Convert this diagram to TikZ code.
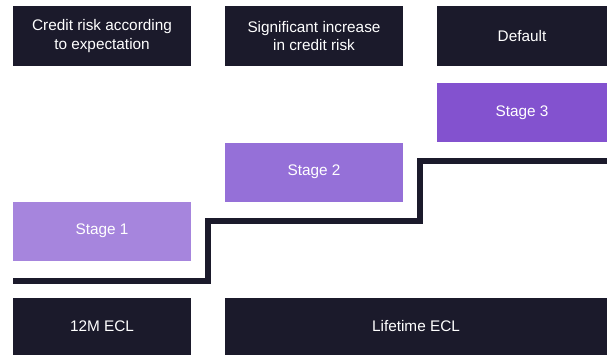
\documentclass[tikz,border=0pt]{standalone}
\usepackage{fontspec}
\setmainfont{Liberation Sans}
\definecolor{navy}{HTML}{1B1A2B}
\definecolor{stA}{HTML}{A685DD}
\definecolor{stB}{HTML}{9570D8}
\definecolor{stC}{HTML}{8352CF}
\begin{document}
\begin{tikzpicture}[x=0.75pt,y=-0.75pt,
  box/.style={rectangle,inner sep=0pt,outer sep=0pt,text=white,align=center,
    font=\fontsize{11.5}{14.2}\selectfont,minimum width=178*0.75pt,minimum height=60*0.75pt},
  dark/.style={box,fill=navy},
  stage/.style={box,minimum height=59*0.75pt},
  stair/.style={draw=navy,line width=4.5pt}]
\useasboundingbox (0,0) rectangle (607,355);
% top row
\node[dark] (h1) at (102,36) {Credit risk according\\to expectation};
\node[dark] (h2) at (314,36) {Significant increase\\in credit risk};
\node[dark,minimum width=170*0.75pt] (h3) at (522,36) {Default};
% stages
\node[stage,fill=stC,minimum width=170*0.75pt] (s3) at (522,112.5) {Stage 3};
\node[stage,fill=stB] (s2) at (314,172) {Stage 2};
\node[stage,fill=stA] (s1) at (102,231) {Stage 1};
% staircase
\coordinate (a) at (13,280.5);
\coordinate (b) at (607,160.5);
\draw[stair] (a) -- (208,280.5) -- (208,220.5) -- (420,220.5) -- (420,160.5) -- (b);
% bottom row
\node[dark,minimum height=57*0.75pt] (e1) at (102,326.5) {12M ECL};
\node[dark,minimum height=57*0.75pt,minimum width=382*0.75pt] (e2) at (416,326.5) {Lifetime ECL};
\end{tikzpicture}
\end{document}
